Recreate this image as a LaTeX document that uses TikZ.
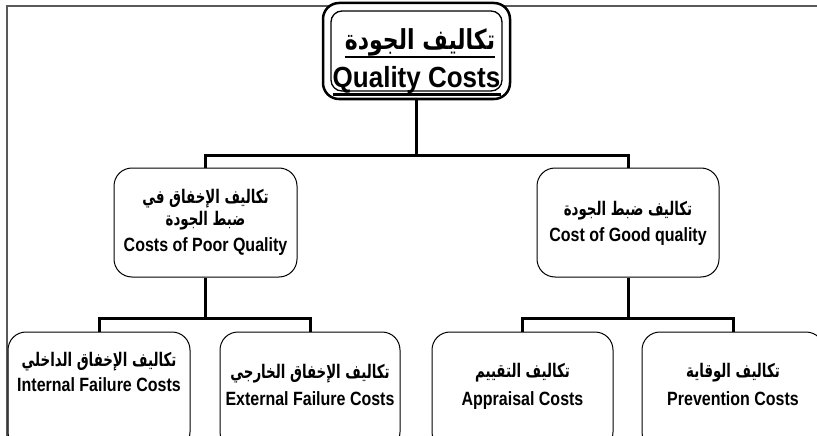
\documentclass[tikz,border=0pt]{standalone}
\usepackage{fontspec}
\setmainfont{Liberation Sans}
\newfontfamily\arabicfont[Script=Arabic]{DejaVu Sans}
\TeXXeTstate=1
\newcommand\entxt[1]{\scalebox{1}[1.2]{#1}}
\newcommand\artxt[1]{\scalebox{0.89}[1.25]{\beginR #1\endR}}
\begin{document}
\begin{tikzpicture}[x=1pt,y=-1pt,
 box/.style={draw=black, line width=1pt, rounded corners=18pt, fill=white, inner sep=0pt},
 conn/.style={line width=3pt, black},
 en/.style={font=\fontsize{16}{19}\selectfont\bfseries, anchor=base, inner sep=0pt},
 ar/.style={font=\arabicfont\fontsize{15}{18}\selectfont\bfseries, anchor=base, inner sep=0pt},
 uline/.style={line width=2.2pt, black},
]
\useasboundingbox (0,0) rectangle (817,436);
\clip (0,0) rectangle (817,436);
\draw[line width=1.5pt, black!65] (7,445) -- (7,6) -- (825,6);

% title
\node[draw, line width=2.5pt, rounded corners=16pt, fill=white, minimum width=187pt, minimum height=96pt] (title) at (416.5,51) {};
\node[draw, line width=1.3pt, rounded corners=11pt, minimum width=171pt, minimum height=80pt] (titlein) at (title.center) {};
\node[ar, font=\arabicfont\fontsize{22}{26}\selectfont\bfseries] (tA) at (420,50) {\scalebox{1}[1.25]{\beginR تكاليف الجودة\endR}};
\node[en, font=\fontsize{26}{30}\selectfont\bfseries] (tE) at (416.5,87.5) {\scalebox{1}[1.12]{Quality Costs}};
\draw[uline] ([yshift=-7pt]tA.base west) -- ([yshift=-7pt]tA.base east);
\draw[uline] ([yshift=-7pt]tE.base west) -- ([yshift=-7pt]tE.base east);

% middle boxes
\node[box, minimum width=183pt, minimum height=109pt] (lm) at (205.5,222.5) {};
\node[box, minimum width=182pt, minimum height=109pt] (rm) at (628,222.5) {};

% bottom boxes
\node[box, minimum width=182pt, minimum height=118pt] (intl) at (99,391) {};
\node[box, minimum width=180pt, minimum height=118pt] (extl) at (310,391) {};
\node[box, minimum width=181pt, minimum height=118pt] (appr) at (522.5,391) {};
\node[box, minimum width=182pt, minimum height=118pt] (prev) at (733,391) {};

% connectors
\coordinate (bus1) at (416.5,155);
\coordinate (bus2) at (205.5,318);
\coordinate (bus3) at (628,318);
\draw[conn] (title.south) -- (title.south |- bus1);
\draw[conn] (lm.north) |- (bus1) -| (rm.north);
\draw[conn] (lm.south) -- (lm.south |- bus2);
\draw[conn] (intl.north) |- (bus2) -| (extl.north);
\draw[conn] (rm.south) -- (rm.south |- bus3);
\draw[conn] (appr.north) |- (bus3) -| (prev.north);

% texts
\node[ar] (lmA) at (205.5,203) {\artxt{تكاليف الإخفاق في}};
\node[ar] (lmB) at (205.5,225) {\artxt{ضبط الجودة}};
\node[en] (lmC) at (205.5,251) {\entxt{Costs of Poor Quality}};

\node[ar] (rmA) at (628,215) {\artxt{تكاليف ضبط الجودة}};
\node[en] (rmB) at (628,241.5) {\entxt{Cost of Good quality}};

\node[ar] (inA) at (99,366) {\artxt{تكاليف الإخفاق الداخلي}};
\node[en] (inB) at (99,391.5) {\entxt{Internal Failure Costs}};

\node[ar] (exA) at (310,378) {\artxt{تكاليف الإخفاق الخارجي}};
\node[en] (exB) at (310,405) {\entxt{External Failure Costs}};

\node[ar] (apA) at (522.5,377) {\artxt{تكاليف التقييم}};
\node[en] (apB) at (522.5,405) {\entxt{Appraisal Costs}};

\node[ar] (pvA) at (733,377) {\artxt{تكاليف الوقاية}};
\node[en] (pvB) at (733,405) {\entxt{Prevention Costs}};
\end{tikzpicture}
\end{document}
